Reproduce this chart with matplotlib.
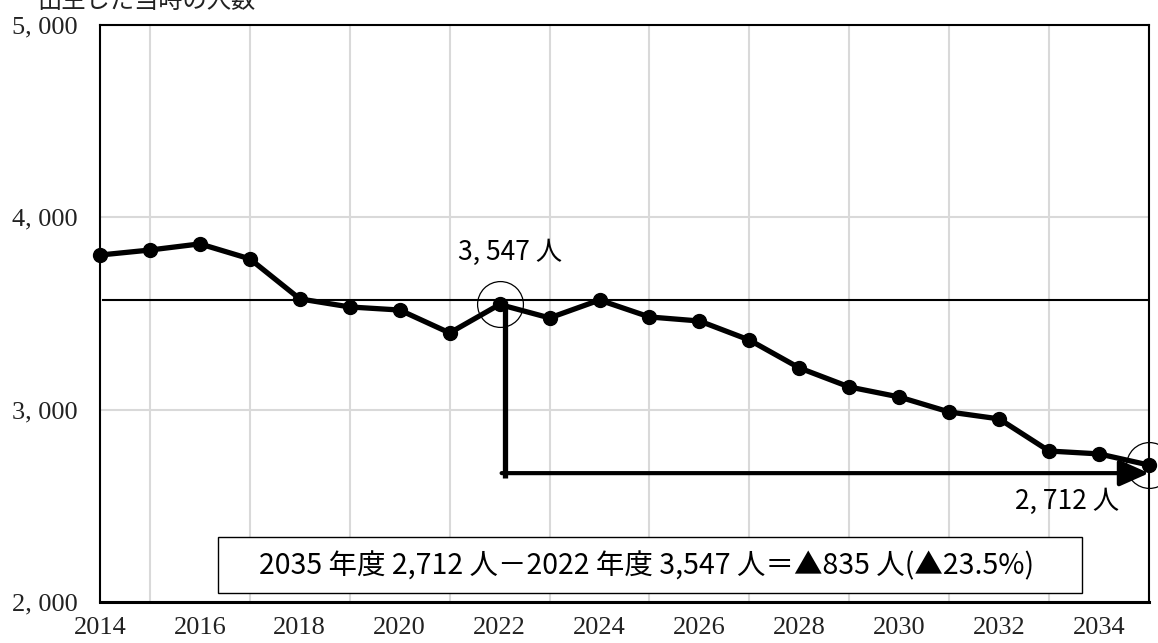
import matplotlib.pyplot as plt
from matplotlib.patches import Rectangle

years = list(range(2014, 2036))
people = [3804, 3830, 3862, 3784, 3576, 3534, 3518, 3399, 3547, 3477, 3570,
          3482, 3461, 3362, 3217, 3118, 3066, 2988, 2952, 2785, 2770, 2712]
y_ticks = [2000, 3000, 4000, 5000]
x_ticks = list(range(2014, 2036, 2))

base_year, base_val = 2022, 3547
end_year, end_val = 2035, 2712
ref_level = 3570
arrow_level = 2670
summary = '2035 年度 2,712 人－2022 年度 3,547 人＝▲835 人(▲23.5%)'

jp = ['Noto Sans CJK JP', 'DejaVu Sans']
serif = 'Liberation Serif'

fig = plt.figure(figsize=(11.58, 6.43), dpi=100)
ax = fig.add_axes([100 / 1158, 41 / 643, 1049 / 1158, 577 / 643])

ax.set_xlim(2014, 2035)
ax.set_ylim(2000, 5000)
ax.set_xticks(x_ticks)
ax.set_xticks(years, minor=True)
ax.set_yticks(y_ticks)
ax.set_yticklabels([f'{v:,}'.replace(',', ', ') for v in y_ticks])
ax.tick_params(axis='both', which='both', length=0)
ax.tick_params(axis='x', pad=11)
ax.tick_params(axis='y', pad=16)
for lab in ax.get_xticklabels() + ax.get_yticklabels():
    lab.set_fontfamily(serif)
    lab.set_fontsize(19)
    lab.set_color('#222222')

ax.grid(True, which='minor', axis='x', color='#d9d9d9', lw=1.5)
ax.grid(True, which='major', axis='y', color='#d9d9d9', lw=1.5)
ax.set_axisbelow(True)
for s in ax.spines.values():
    s.set_linewidth(1.5)
    s.set_color('black')
ax.spines['bottom'].set_linewidth(2.2)

# reference line and arrow
ax.plot([2014.06, 2035], [ref_level, ref_level], color='black', lw=1.5)
ax.plot([base_year + 0.1, base_year + 0.1], [3565, arrow_level - 25],
        color='black', lw=3.8, solid_capstyle='butt')
ax.annotate('', xy=(end_year, arrow_level), xytext=(base_year + 0.04, arrow_level),
            arrowprops=dict(arrowstyle='-|>,head_length=1.8,head_width=0.8',
                            color='black', lw=3, shrinkA=0, shrinkB=0),
            annotation_clip=False)

ax.plot(years, people, color='black', lw=3.8, marker='o', ms=10,
        clip_on=False, zorder=4)

# circles on the two compared points
ax.plot([base_year, end_year], [base_val, end_val], ls='none', marker='o',
        ms=33, mfc='none', mec='black', mew=0.9, clip_on=False, zorder=5)

ax.text(base_year + 0.2, 3820, '3, 547 人', family=jp, fontsize=19,
        ha='center', va='center')
ax.text(2033.36, 2525, '2, 712 人', family=jp, fontsize=19,
        ha='center', va='center')

ax.add_patch(Rectangle((2016.36, 2047), 17.3, 291, facecolor='white',
                       edgecolor='black', lw=1.0, zorder=6))
ax.text(2024.95, 2185, summary, family=jp, fontsize=20.5, ha='center',
        va='center', zorder=7)

fig.text(37 / 1158, 1 - 8 / 643, '出生した当時の人数', family=jp, fontsize=17.5,
         ha='left', va='baseline', color='#222222')

fig.savefig('out.png', dpi=100)
